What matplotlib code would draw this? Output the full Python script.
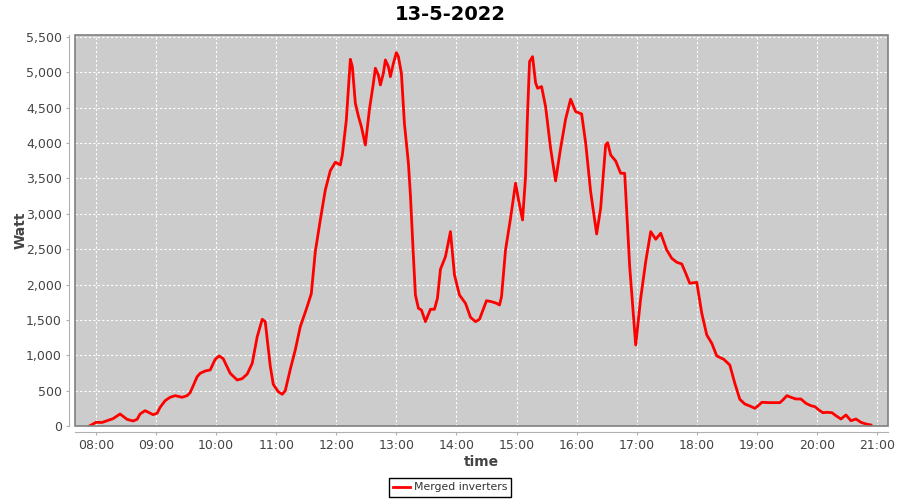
import pandas as pd
import matplotlib
matplotlib.use("Agg")
import matplotlib.pyplot as plt
import matplotlib.dates as mdates
from matplotlib.patches import Rectangle
from matplotlib.ticker import FuncFormatter

# === Data (time of day, Watt) ===
times = [
    "07:54", "08:00", "08:06", "08:11", "08:17", "08:24", "08:31", "08:37", "08:41", "08:44",
    "08:49", "08:57", "09:01", "09:04", "09:09", "09:14", "09:19", "09:26", "09:31", "09:34",
    "09:41", "09:44", "09:49", "09:54", "09:59", "10:03", "10:07", "10:14", "10:21", "10:26",
    "10:31", "10:36", "10:41", "10:46", "10:49", "10:54", "10:57", "11:02", "11:06", "11:09",
    "11:14", "11:19", "11:24", "11:30", "11:35", "11:37", "11:39", "11:44", "11:49", "11:54",
    "11:59", "12:04", "12:06", "12:10", "12:14", "12:16", "12:19", "12:22", "12:25", "12:29",
    "12:33", "12:37", "12:39", "12:42", "12:44", "12:47", "12:49", "12:52", "12:54", "12:57",
    "13:00", "13:02", "13:05", "13:08", "13:12", "13:14", "13:17", "13:19", "13:22", "13:25",
    "13:29", "13:34", "13:38", "13:41", "13:44", "13:49", "13:54", "13:58", "14:03", "14:09",
    "14:14", "14:19", "14:23", "14:30", "14:35", "14:40", "14:43", "14:45", "14:49", "14:54",
    "14:59", "15:02", "15:06", "15:09", "15:11", "15:13", "15:16", "15:19", "15:21", "15:25",
    "15:29", "15:34", "15:39", "15:44", "15:49", "15:54", "15:59", "16:05", "16:09", "16:14",
    "16:20", "16:24", "16:29", "16:31", "16:34", "16:39", "16:44", "16:48", "16:53", "16:59",
    "17:04", "17:09", "17:14", "17:19", "17:24", "17:30", "17:35", "17:40", "17:45", "17:49",
    "17:53", "18:00", "18:05", "18:10", "18:15", "18:20", "18:27", "18:33", "18:38", "18:43",
    "18:48", "18:53", "18:58", "19:01", "19:05", "19:13", "19:23", "19:26", "19:30", "19:34",
    "19:39", "19:44", "19:49", "19:54", "19:58", "20:02", "20:06", "20:10", "20:15", "20:19",
    "20:24", "20:29", "20:34", "20:39", "20:44", "20:49", "20:54",
]
watt = [
    5, 52, 50, 75, 104, 170, 94, 71, 94, 170,
    217, 160, 180, 264, 358, 406, 429, 406, 429, 471,
    697, 745, 778, 792, 943, 990, 952, 745, 650, 670,
    735, 886, 1263, 1509, 1475, 850, 590, 485, 448, 499,
    800, 1075, 1404, 1650, 1870, 2160, 2465, 2913, 3337, 3610,
    3729, 3691, 3832, 4327, 5185, 5081, 4563, 4383, 4232, 3973,
    4468, 4846, 5058, 4963, 4822, 4987, 5175, 5081, 4939, 5128,
    5279, 5222, 4987, 4280, 3714, 3266, 2394, 1852, 1664, 1640,
    1475, 1650, 1650, 1806, 2216, 2394, 2748, 2135, 1852, 1735,
    1537, 1475, 1509, 1772, 1758, 1735, 1711, 1829, 2489, 2937,
    3432, 3196, 2913, 3526, 4422, 5152, 5222, 4855, 4775, 4799,
    4516, 3927, 3465, 3927, 4337, 4620, 4445, 4412, 4006, 3313,
    2715, 3078, 3973, 4006, 3832, 3747, 3573, 3573, 2253, 1145,
    1806, 2323, 2748, 2640, 2725, 2489, 2371, 2315, 2291, 2159,
    2018, 2032, 1594, 1287, 1169, 990, 943, 862, 604, 378,
    311, 283, 250, 283, 335, 330, 330, 368, 429, 406,
    382, 382, 321, 287, 273, 226, 188, 193, 188, 146,
    99, 156, 75, 99, 52, 28, 14,
]

day = "2022-05-13"
t = pd.to_datetime([f"{day} {s}" for s in times])

fig = plt.figure(figsize=(9, 5), dpi=100)
ax = fig.add_axes([75/900, 1 - 426/500, (888 - 75)/900, (426 - 35)/500])
ax.set_facecolor("#cccccc")

ax.plot(t, watt, color="red", lw=2, label="Merged inverters", zorder=3,
        solid_joinstyle="round")

ax.set_xlim(pd.Timestamp(f"{day} 07:39"), pd.Timestamp(f"{day} 21:11"))
ax.set_ylim(0, 5528)
ax.set_yticks(range(0, 5501, 500))
ax.yaxis.set_major_formatter(FuncFormatter(lambda v, p: f"{int(v):,}"))
ax.xaxis.set_major_locator(mdates.HourLocator())
ax.xaxis.set_major_formatter(mdates.DateFormatter("%H:%M"))

ax.grid(True, color="white", ls=(0, (2, 2)), lw=0.8)
ax.set_axisbelow(True)

# axis lines offset from the plot, plot outline drawn separately
for s in ["top", "right"]:
    ax.spines[s].set_visible(False)
for s in ["left", "bottom"]:
    ax.spines[s].set_position(("outward", 4))
    ax.spines[s].set_color("#b0b0b0")
ax.add_patch(Rectangle((0, 0), 1, 1, transform=ax.transAxes, fill=False,
                       ec="#808080", lw=1.2, clip_on=False, zorder=4))
ax.tick_params(colors="#b0b0b0", labelcolor="#444444", labelsize=9, length=2)

ax.set_xlabel("time", fontsize=10, fontweight="bold", color="#444444", labelpad=2)
ax.set_ylabel("Watt", fontsize=10, fontweight="bold", color="#444444", labelpad=-1)
fig.suptitle("13-5-2022", fontsize=14, fontweight="bold", y=0.972, va="center")

leg = fig.legend(loc="center", bbox_to_anchor=(0.5, 0.025), fancybox=False,
                 framealpha=1, edgecolor="black", fontsize=7.8, handlelength=1.6,
                 borderpad=0.4, handletextpad=0.3, borderaxespad=0)
leg.get_frame().set_linewidth(1)
for txt in leg.get_texts():
    txt.set_color("#333333")

fig.savefig("out.png", dpi=100)
